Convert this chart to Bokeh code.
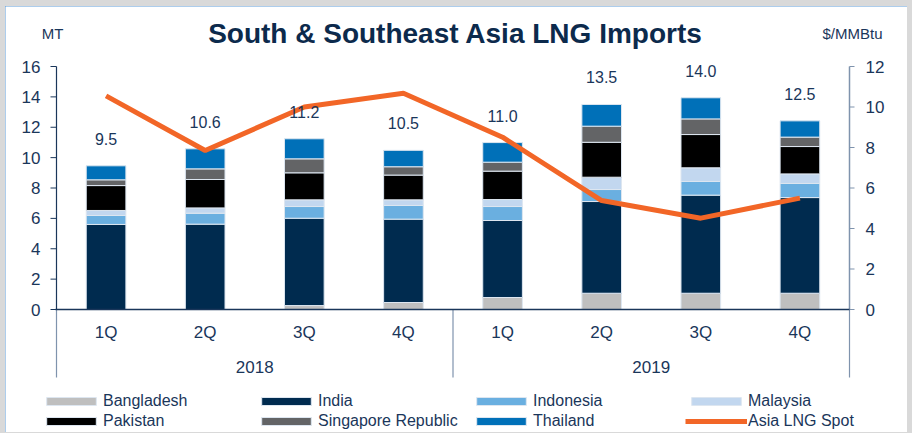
from bokeh.plotting import figure
from bokeh.models import Range1d, Legend, LegendItem, ColumnDataSource
from bokeh.core.properties import value
from bokeh.embed import file_html
from bokeh.resources import INLINE

# ---------------- data ----------------
years = ["2018", "2019"]
quarters = ["1Q", "2Q", "3Q", "4Q", "1Q", "2Q", "3Q", "4Q"]
countries = ["Bangladesh", "India", "Indonesia", "Malaysia", "Pakistan",
             "Singapore Republic", "Thailand"]
bangladesh = [0.00, 0.00, 0.26, 0.46, 0.79, 1.07, 1.07, 1.07]
india = [5.60, 5.62, 5.75, 5.49, 5.07, 6.04, 6.46, 6.30]
indonesia = [0.59, 0.72, 0.77, 0.90, 0.92, 0.79, 0.90, 0.93]
malaysia = [0.33, 0.35, 0.44, 0.37, 0.46, 0.81, 0.90, 0.63]
pakistan = [1.64, 1.87, 1.78, 1.63, 1.87, 2.30, 2.19, 1.80]
singapore = [0.38, 0.70, 0.92, 0.55, 0.59, 1.06, 1.03, 0.62]
thailand = [0.92, 1.32, 1.32, 1.08, 1.29, 1.43, 1.39, 1.07]
totals = [9.5, 10.6, 11.2, 10.5, 11.0, 13.5, 14.0, 12.5]
spot = [10.55, 7.85, 10.00, 10.68, 8.51, 5.38, 4.51, 5.50]
left_ticks = [0, 2, 4, 6, 8, 10, 12, 14, 16]
right_ticks = [0, 2, 4, 6, 8, 10, 12]
title = "South & Southeast Asia LNG Imports"
left_unit = "MT"
right_unit = "$/MMBtu"
spot_name = "Asia LNG Spot"

# ---------------- styles ----------------
colors = ["#bfbfbf", "#002b4f", "#6aafe0", "#c2d7ef", "#000000", "#636466", "#0070b8"]
spot_color = "#f26627"
navy = "#1a365a"
title_color = "#0c2a4c"
sep_color = "#7f93ad"
font = value("Liberation Sans")

# ---------------- layout (page pixels -> data units) ----------------
W, H = 902, 426            # figure size
OX, OY = 5, 6              # figure offset on page
X0, SX = 56.0, 99.125      # page x of category edge 0, pixels per category
Y0, SY = 309.0, 15.1875    # page y of value 0, pixels per MT
RATIO = 12 / 16            # right axis ($/MMBtu) per left axis (MT)


def dx(px):
    return (px - X0) / SX


def dy(py):
    return (Y0 - py) / SY


n = len(quarters)
xs = [i + 0.5 for i in range(n)]
stack_tops = [sum(v) for v in zip(bangladesh, india, indonesia, malaysia,
                                  pakistan, singapore, thailand)]
keys = ["bangladesh", "india", "indonesia", "malaysia", "pakistan", "singapore", "thailand"]
src = ColumnDataSource(dict(x=xs, bangladesh=bangladesh, india=india, indonesia=indonesia,
                            malaysia=malaysia, pakistan=pakistan, singapore=singapore,
                            thailand=thailand))

p = figure(width=W, height=H, output_backend="svg", toolbar_location=None,
           x_range=Range1d(dx(OX), dx(OX + W)), y_range=Range1d(dy(OY + H), dy(OY)),
           x_axis_location=None, y_axis_location=None,
           min_border_left=0, min_border_right=0, min_border_top=0, min_border_bottom=0)
p.outline_line_color = None
p.xgrid.visible = False
p.ygrid.visible = False
p.background_fill_color = "white"
p.border_fill_color = "white"
p.extra_y_ranges = {"spot": Range1d(dy(OY + H) * RATIO, dy(OY) * RATIO)}

# ---------------- bars & line ----------------
bar_rs = p.vbar_stack(keys, x="x", width=0.4, color=colors, source=src,
                      line_color="#dde6f0", line_width=1)
line_r = p.line(xs, spot, y_range_name="spot", line_color=spot_color, line_width=5)

# ---------------- axes ----------------
# left value axis
p.segment(x0=[0], y0=[0], x1=[0], y1=[left_ticks[-1]], line_color=navy, line_width=1.2)
p.segment(x0=[dx(50)] * len(left_ticks), y0=left_ticks, x1=[0] * len(left_ticks),
          y1=left_ticks, line_color=navy, line_width=1)
p.text(x=[dx(40)] * len(left_ticks), y=left_ticks, text=[str(t) for t in left_ticks],
       text_align="right", text_baseline="middle", text_font=font,
       text_font_size="17px", text_color=navy)

# right value axis ($/MMBtu)
p.segment(x0=[n], y0=[0], x1=[n], y1=[right_ticks[-1]], y_range_name="spot",
          line_color=sep_color, line_width=1.5)
p.segment(x0=[n] * len(right_ticks), y0=right_ticks, x1=[dx(854)] * len(right_ticks),
          y1=right_ticks, y_range_name="spot", line_color=sep_color, line_width=1)
p.text(x=[dx(865)] * len(right_ticks), y=right_ticks, text=[str(t) for t in right_ticks],
       y_range_name="spot", text_align="left", text_baseline="middle", text_font=font,
       text_font_size="17px", text_color=navy)

# category axis
seps = [0, n // 2, n]
p.segment(x0=seps, y0=[0] * 3, x1=seps, y1=[dy(377)] * 3, line_color=sep_color,
          line_width=1.2)
p.segment(x0=[dx(55)], y0=[0], x1=[n], y1=[0], line_color=navy, line_width=1.3)
p.text(x=xs, y=[dy(332)] * n, text=quarters, text_align="center", text_baseline="middle",
       text_font=font, text_font_size="17px", text_color=navy)
p.text(x=[n / 4, 3 * n / 4], y=[dy(366)] * 2, text=years, text_align="center",
       text_baseline="middle", text_font=font, text_font_size="17px", text_color=navy)

# totals above the bars
p.text(x=xs, y=stack_tops, text=[f"{t:.1f}" for t in totals], y_offset=-27,
       text_align="center", text_baseline="middle", text_font=font,
       text_font_size="16px", text_color=navy)

# titles
p.text(x=[dx(455)], y=[dy(33)], text=[title], text_align="center", text_baseline="middle",
       text_font=font, text_font_size="28px", text_font_style="bold",
       text_color=title_color)
p.text(x=[dx(52), dx(852)], y=[dy(33)] * 2, text=[left_unit, right_unit],
       text_align="center", text_baseline="middle", text_font=font,
       text_font_size="15px", text_color=navy)

# ---------------- legend ----------------
items = [LegendItem(label=c, renderers=[r]) for c, r in zip(countries, bar_rs)]
items.append(LegendItem(label=spot_name, renderers=[line_r]))
legend = Legend(items=items, location=(40 - OX, 1), orientation="horizontal", ncols=4,
                glyph_width=62, glyph_height=10, label_standoff=1, label_width=152,
                label_height=20, spacing=0, padding=0, margin=0,
                border_line_color=None, background_fill_alpha=0,
                label_text_font="Liberation Sans", label_text_font_size="16px",
                label_text_color=navy)
p.add_layout(legend, "center")

p.styles = {"outline": "1px solid #5a9bd8", "outline-offset": "-1px"}

html = file_html(p, INLINE)
html = html.replace("<body>",
                    '<body style="background:#d9d9d9;margin:0;padding:6px 0 0 5px;">')
open("out.html", "w").write(html)
